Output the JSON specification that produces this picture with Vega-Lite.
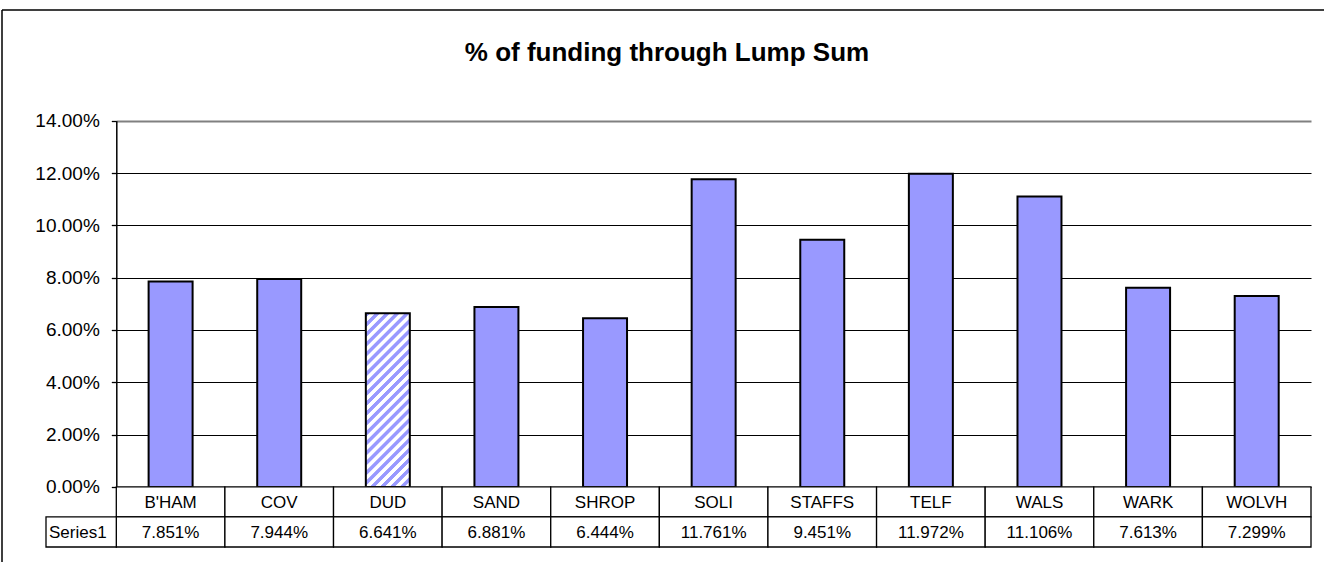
{
  "$schema": "https://vega.github.io/schema/vega-lite/v6.json",
  "width": 1322,
  "height": 552,
  "padding": {"left": 2, "top": 10, "right": 0, "bottom": 0},
  "autosize": {"type": "none"},
  "background": "white",
  "config": {
    "view": {"stroke": "black", "strokeWidth": 1.5, "strokeDash": [1322, 1874, 552, 0]},
    "font": "Liberation Sans",
    "text": {"font": "Liberation Sans", "color": "black"}
  },
  "title": {
    "text": "% of funding through Lump Sum",
    "frame": "group",
    "anchor": "middle",
    "fontSize": 26,
    "fontWeight": "bold",
    "font": "Liberation Sans",
    "color": "black",
    "baseline": "alphabetic",
    "offset": -77,
    "dx": 4
  },
  "data": {
    "values": [
      {"region": "B'HAM", "share": 0.07851},
      {"region": "COV", "share": 0.07944},
      {"region": "DUD", "share": 0.06641},
      {"region": "SAND", "share": 0.06881},
      {"region": "SHROP", "share": 0.06444},
      {"region": "SOLI", "share": 0.11761},
      {"region": "STAFFS", "share": 0.09451},
      {"region": "TELF", "share": 0.11972},
      {"region": "WALS", "share": 0.11106},
      {"region": "WARK", "share": 0.07613},
      {"region": "WOLVH", "share": 0.07299}
    ]
  },
  "resolve": {
    "scale": {"x": "independent", "y": "independent"},
    "axis": {"x": "independent", "y": "independent"}
  },
  "layer": [
    {
      "encoding": {
        "x": {
          "field": "region", "type": "nominal", "sort": null,
          "scale": {
            "domain": ["B'HAM", "COV", "DUD", "SAND", "SHROP", "SOLI", "STAFFS", "TELF", "WALS", "WARK", "WOLVH"],
            "range": [114.3, 1309], "paddingInner": 0, "paddingOuter": 0
          },
          "axis": null
        },
        "y": {
          "field": "share", "type": "quantitative",
          "scale": {"domain": [0, 0.14], "range": [476.9, 110.7], "nice": false, "zero": true},
          "axis": {
            "orient": "left",
            "offset": -114.3,
            "values": [0, 0.02, 0.04, 0.06, 0.08, 0.1, 0.12, 0.14],
            "format": ".2%",
            "title": null,
            "labelFont": "Liberation Sans",
            "labelFontSize": 19,
            "labelColor": "black",
            "labelPadding": 12,
            "tickSize": 5,
            "tickColor": "black",
            "tickWidth": 1.3,
            "domainColor": "black",
            "domainWidth": 1.5,
            "grid": true,
            "gridColor": {"condition": {"test": "datum.value >= 0.139", "value": "#808080"}, "value": "black"},
            "gridWidth": {"condition": {"test": "datum.value >= 0.139", "value": 2.2}, "value": 1},
            "gridOpacity": 1
          }
        }
      },
      "layer": [
        {
          "transform": [{"filter": "datum.region !== 'DUD'"}],
          "mark": {"type": "bar", "width": {"band": 0.405}, "fill": "#9999FF", "stroke": "black", "strokeWidth": 2}
        },
        {
          "transform": [{"filter": "datum.region === 'DUD'"}],
          "mark": {
            "type": "bar", "width": {"band": 0.405}, "stroke": "black", "strokeWidth": 2,
            "fill": {
              "gradient": "linear", "x1": 0, "y1": 0, "x2": 0.2978, "y2": 1.1776,
              "stops": [
                {"offset": 0, "color": "#9999FF"}, {"offset": 0.0182, "color": "#9999FF"}, {"offset": 0.0227, "color": "white"}, {"offset": 0.0409, "color": "white"},
                {"offset": 0.0455, "color": "#9999FF"}, {"offset": 0.0636, "color": "#9999FF"}, {"offset": 0.0682, "color": "white"}, {"offset": 0.0864, "color": "white"},
                {"offset": 0.0909, "color": "#9999FF"}, {"offset": 0.1091, "color": "#9999FF"}, {"offset": 0.1136, "color": "white"}, {"offset": 0.1318, "color": "white"},
                {"offset": 0.1364, "color": "#9999FF"}, {"offset": 0.1545, "color": "#9999FF"}, {"offset": 0.1591, "color": "white"}, {"offset": 0.1773, "color": "white"},
                {"offset": 0.1818, "color": "#9999FF"}, {"offset": 0.2, "color": "#9999FF"}, {"offset": 0.2045, "color": "white"}, {"offset": 0.2227, "color": "white"},
                {"offset": 0.2273, "color": "#9999FF"}, {"offset": 0.2455, "color": "#9999FF"}, {"offset": 0.25, "color": "white"}, {"offset": 0.2682, "color": "white"},
                {"offset": 0.2727, "color": "#9999FF"}, {"offset": 0.2909, "color": "#9999FF"}, {"offset": 0.2955, "color": "white"}, {"offset": 0.3136, "color": "white"},
                {"offset": 0.3182, "color": "#9999FF"}, {"offset": 0.3364, "color": "#9999FF"}, {"offset": 0.3409, "color": "white"}, {"offset": 0.3591, "color": "white"},
                {"offset": 0.3636, "color": "#9999FF"}, {"offset": 0.3818, "color": "#9999FF"}, {"offset": 0.3864, "color": "white"}, {"offset": 0.4045, "color": "white"},
                {"offset": 0.4091, "color": "#9999FF"}, {"offset": 0.4273, "color": "#9999FF"}, {"offset": 0.4318, "color": "white"}, {"offset": 0.45, "color": "white"},
                {"offset": 0.4545, "color": "#9999FF"}, {"offset": 0.4727, "color": "#9999FF"}, {"offset": 0.4773, "color": "white"}, {"offset": 0.4955, "color": "white"},
                {"offset": 0.5, "color": "#9999FF"}, {"offset": 0.5182, "color": "#9999FF"}, {"offset": 0.5227, "color": "white"}, {"offset": 0.5409, "color": "white"},
                {"offset": 0.5455, "color": "#9999FF"}, {"offset": 0.5636, "color": "#9999FF"}, {"offset": 0.5682, "color": "white"}, {"offset": 0.5864, "color": "white"},
                {"offset": 0.5909, "color": "#9999FF"}, {"offset": 0.6091, "color": "#9999FF"}, {"offset": 0.6136, "color": "white"}, {"offset": 0.6318, "color": "white"},
                {"offset": 0.6364, "color": "#9999FF"}, {"offset": 0.6545, "color": "#9999FF"}, {"offset": 0.6591, "color": "white"}, {"offset": 0.6773, "color": "white"},
                {"offset": 0.6818, "color": "#9999FF"}, {"offset": 0.7, "color": "#9999FF"}, {"offset": 0.7045, "color": "white"}, {"offset": 0.7227, "color": "white"},
                {"offset": 0.7273, "color": "#9999FF"}, {"offset": 0.7455, "color": "#9999FF"}, {"offset": 0.75, "color": "white"}, {"offset": 0.7682, "color": "white"},
                {"offset": 0.7727, "color": "#9999FF"}, {"offset": 0.7909, "color": "#9999FF"}, {"offset": 0.7955, "color": "white"}, {"offset": 0.8136, "color": "white"},
                {"offset": 0.8182, "color": "#9999FF"}, {"offset": 0.8364, "color": "#9999FF"}, {"offset": 0.8409, "color": "white"}, {"offset": 0.8591, "color": "white"},
                {"offset": 0.8636, "color": "#9999FF"}, {"offset": 0.8818, "color": "#9999FF"}, {"offset": 0.8864, "color": "white"}, {"offset": 0.9045, "color": "white"},
                {"offset": 0.9091, "color": "#9999FF"}, {"offset": 0.9273, "color": "#9999FF"}, {"offset": 0.9318, "color": "white"}, {"offset": 0.95, "color": "white"},
                {"offset": 0.9545, "color": "#9999FF"}, {"offset": 0.9727, "color": "#9999FF"}, {"offset": 0.9773, "color": "white"}, {"offset": 1, "color": "white"}
              ]
            }
          }
        },
        {
          "data": {"values": [{}]},
          "mark": {"type": "rule", "stroke": "#808080", "strokeWidth": 2.2},
          "encoding": {
            "x": {"datum": "WOLVH", "type": "nominal", "bandPosition": 1},
            "y": {"datum": 0, "type": "quantitative"},
            "y2": {"datum": 0.14}
          }
        }
      ]
    },
    {
      "encoding": {
        "x": {
          "field": "region", "type": "nominal", "sort": null,
          "scale": {
            "domain": ["B'HAM", "COV", "DUD", "SAND", "SHROP", "SOLI", "STAFFS", "TELF", "WALS", "WARK", "WOLVH"],
            "range": [114.3, 1309], "paddingInner": 0, "paddingOuter": 0
          },
          "axis": null
        }
      },
      "layer": [
        {
          "mark": {"type": "rect", "fill": "white", "stroke": "black", "strokeWidth": 1.3},
          "encoding": {
            "y": {"datum": "name", "type": "nominal",
                  "scale": {"domain": ["name", "value"], "range": [476.8, 537], "paddingInner": 0, "paddingOuter": 0},
                  "axis": null}
          }
        },
        {
          "mark": {"type": "rect", "fill": "white", "stroke": "black", "strokeWidth": 1.3},
          "encoding": {"y": {"datum": "value", "type": "nominal"}}
        },
        {
          "mark": {"type": "text", "fontSize": 17, "baseline": "middle", "align": "center", "dy": 1},
          "encoding": {
            "y": {"datum": "name", "type": "nominal"},
            "text": {"field": "region", "type": "nominal"}
          }
        },
        {
          "mark": {"type": "text", "fontSize": 17, "baseline": "middle", "align": "center", "dy": 1},
          "encoding": {
            "y": {"datum": "value", "type": "nominal"},
            "text": {"field": "share", "type": "quantitative", "format": ".3%"}
          }
        }
      ]
    },
    {
      "data": {"values": [{"label": "Series1"}]},
      "encoding": {
        "x": {"field": "label", "type": "nominal",
              "scale": {"domain": ["Series1"], "range": [44, 114.3], "paddingInner": 0, "paddingOuter": 0},
              "axis": null},
        "y": {"datum": "value", "type": "nominal",
              "scale": {"domain": ["name", "value"], "range": [476.8, 537], "paddingInner": 0, "paddingOuter": 0},
              "axis": null}
      },
      "layer": [
        {"mark": {"type": "rect", "fill": "white", "stroke": "black", "strokeWidth": 1.3}},
        {
          "mark": {"type": "text", "fontSize": 17, "baseline": "middle", "align": "left", "dx": 3, "dy": 1},
          "encoding": {
            "x": {"field": "label", "type": "nominal", "bandPosition": 0},
            "text": {"field": "label", "type": "nominal"}
          }
        }
      ]
    }
  ]
}
